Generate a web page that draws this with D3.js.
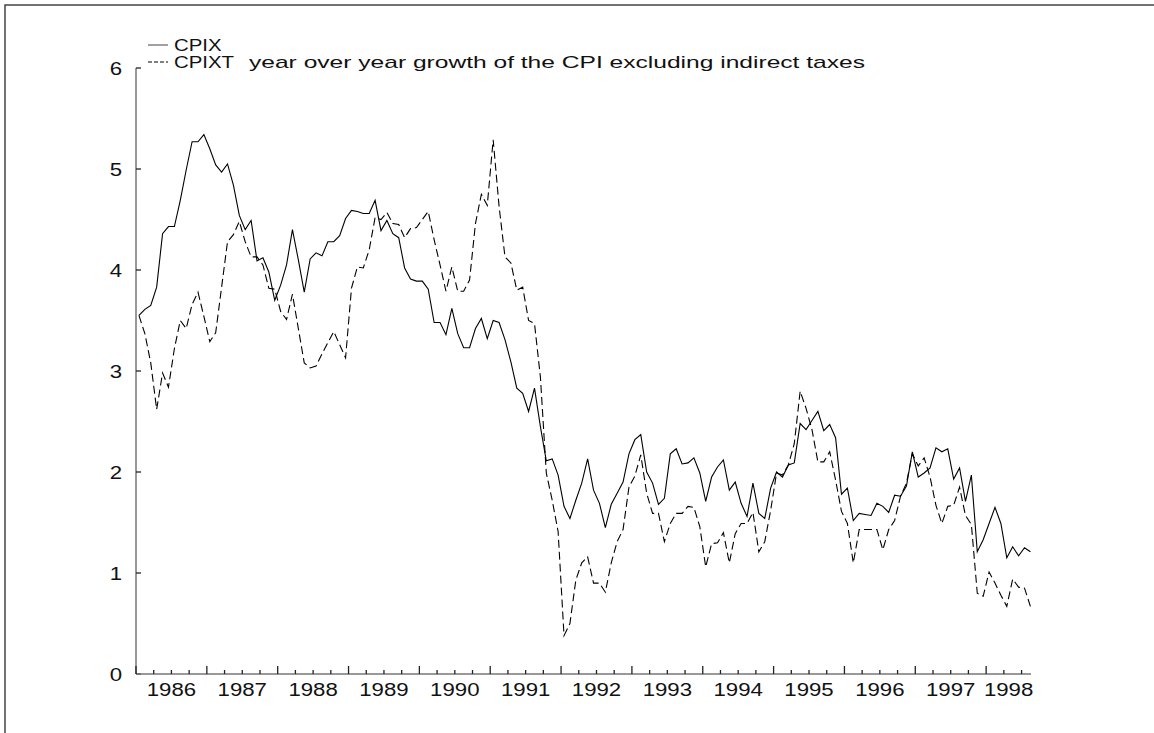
<!DOCTYPE html>
<html>
<head>
<meta charset="utf-8">
<script src="https://cdn.jsdelivr.net/npm/d3@7"></script>
<style>
  body { margin: 0; background: #fff; }
  svg text { font-family: "Liberation Sans", Arial, Helvetica, sans-serif; fill: #111; }
</style>
</head>
<body>
<svg id="chart" width="1154" height="733"></svg>
<script>
// monthly values, Jan 1986 .. Aug 1998
let cpix = [
  3.55, 3.61, 3.65, 3.83, 4.36, 4.43, 4.43, 4.69, 4.99, 5.27, 5.27, 5.34,
  5.20, 5.04, 4.97, 5.05, 4.84, 4.54, 4.40, 4.49, 4.09, 4.12, 3.98, 3.70,
  3.85, 4.05, 4.40, 4.10, 3.78, 4.11, 4.17, 4.14, 4.28, 4.28, 4.34, 4.51,
  4.59, 4.58, 4.56, 4.56, 4.69, 4.39, 4.49, 4.36, 4.32, 4.02, 3.91, 3.89,
  3.89, 3.81, 3.48, 3.48, 3.36, 3.62, 3.37, 3.23, 3.23, 3.42, 3.52, 3.32,
  3.50, 3.48, 3.31, 3.09, 2.83, 2.78, 2.60, 2.83, 2.45, 2.11, 2.13, 1.97,
  1.66, 1.54, 1.72, 1.89, 2.13, 1.82, 1.69, 1.45, 1.68, 1.79, 1.90, 2.18,
  2.32, 2.37, 2.00, 1.89, 1.68, 1.74, 2.18, 2.23, 2.08, 2.09, 2.14, 1.99,
  1.71, 1.95, 2.05, 2.12, 1.82, 1.90, 1.69, 1.56, 1.89, 1.59, 1.54, 1.84,
  2.00, 1.95, 2.07, 2.09, 2.48, 2.42, 2.51, 2.60, 2.41, 2.47, 2.34, 1.78,
  1.84, 1.52, 1.59, 1.58, 1.57, 1.69, 1.66, 1.60, 1.77, 1.76, 1.86, 2.20,
  1.95, 1.99, 2.04, 2.24, 2.20, 2.23, 1.93, 2.04, 1.71, 1.97, 1.21, 1.33,
  1.49, 1.65, 1.49, 1.15, 1.26, 1.17, 1.25, 1.21
];
let cpixt = [
  3.55, 3.37, 3.08, 2.62, 2.98, 2.84, 3.22, 3.50, 3.42, 3.66, 3.78, 3.54,
  3.29, 3.38, 3.83, 4.28, 4.35, 4.48, 4.28, 4.13, 4.13, 4.05, 3.82, 3.81,
  3.59, 3.51, 3.76, 3.42, 3.08, 3.03, 3.05, 3.17, 3.28, 3.39, 3.26, 3.13,
  3.82, 4.03, 4.02, 4.20, 4.52, 4.50, 4.57, 4.46, 4.45, 4.32, 4.41, 4.42,
  4.50, 4.58, 4.30, 4.05, 3.79, 4.03, 3.79, 3.79, 3.90, 4.46, 4.75, 4.64,
  5.29, 4.63, 4.13, 4.07, 3.80, 3.83, 3.50, 3.47, 2.94, 1.99, 1.72, 1.41,
  0.38, 0.50, 0.93, 1.10, 1.16, 0.90, 0.90, 0.81, 1.10, 1.31, 1.43, 1.85,
  1.96, 2.17, 1.79, 1.59, 1.59, 1.31, 1.49, 1.59, 1.59, 1.66, 1.65, 1.46,
  1.06, 1.29, 1.30, 1.40, 1.10, 1.39, 1.49, 1.49, 1.60, 1.21, 1.31, 1.62,
  1.99, 1.97, 2.07, 2.28, 2.80, 2.63, 2.42, 2.10, 2.10, 2.20, 1.92, 1.61,
  1.49, 1.10, 1.43, 1.43, 1.43, 1.43, 1.23, 1.43, 1.52, 1.76, 1.89, 2.18,
  2.06, 2.14, 1.95, 1.67, 1.49, 1.66, 1.67, 1.85, 1.57, 1.48, 0.80, 0.77,
  1.01, 0.90, 0.78, 0.67, 0.94, 0.86, 0.85, 0.67
];
let years = [1986, 1987, 1988, 1989, 1990, 1991, 1992, 1993, 1994, 1995, 1996, 1997, 1998];
let yTicks = [0, 1, 2, 3, 4, 5, 6];
let legendNames = ['CPIX', 'CPIXT'];
let legendNote = 'year over year growth of the CPI excluding indirect taxes';

let svg = d3.select('#chart');
let plotLeft = 136, plotRight = 1031, plotTop = 68, plotBottom = 674;
let stretch = 1.2;

let x = d3.scaleLinear().domain([1986, 1998 + 7.6 / 12]).range([plotLeft, plotRight]);
let y = d3.scaleLinear().domain([0, 6]).range([plotBottom, plotTop]);

// outer frame (top and left edges only)
svg.append('path')
  .attr('d', 'M5,733 V5 H1154')
  .attr('fill', 'none')
  .attr('stroke', '#444')
  .attr('stroke-width', 1.5);

function stretchedText(g, tx, ty, str, anchor, size) {
  return g.append('text')
    .attr('transform', 'translate(' + tx + ',' + ty + ') scale(' + stretch + ',1)')
    .attr('text-anchor', anchor)
    .attr('font-size', size || 18.5)
    .text(str);
}

// y axis
let yAxis = svg.append('g');
yAxis.append('line')
  .attr('x1', plotLeft).attr('x2', plotLeft)
  .attr('y1', y(0)).attr('y2', y(6))
  .attr('stroke', '#777').attr('stroke-width', 1.5);
yTicks.forEach(function(t) {
  yAxis.append('line')
    .attr('x1', plotLeft).attr('x2', plotLeft + 5)
    .attr('y1', y(t)).attr('y2', y(t))
    .attr('stroke', '#222').attr('stroke-width', 1.3);
  stretchedText(yAxis, plotLeft - 14, y(t) + 7, String(t), 'end');
});

// x axis
let xAxis = svg.append('g');
xAxis.append('line')
  .attr('x1', plotLeft).attr('x2', plotRight)
  .attr('y1', plotBottom).attr('y2', plotBottom)
  .attr('stroke', '#777').attr('stroke-width', 1.5);
let quarters = d3.range(1986, 1998.6, 0.25);
quarters.forEach(function(q) {
  let major = Math.abs(q - Math.round(q)) < 1e-6;
  xAxis.append('line')
    .attr('x1', x(q)).attr('x2', x(q))
    .attr('y1', plotBottom).attr('y2', plotBottom - (major ? 8 : 4))
    .attr('stroke', '#222').attr('stroke-width', 1.3);
});
years.forEach(function(yr) {
  // last year is only partly shown: centre its label in what is left
  let cx = yr < 1998 ? x(yr + 0.5) : (x(yr) + plotRight) / 2;
  stretchedText(xAxis, cx, plotBottom + 22, String(yr), 'middle');
});

// series
function dateOf(i) { return 1986 + (i + 0.5) / 12; }
let line = d3.line()
  .x(function(d, i) { return x(dateOf(i)); })
  .y(function(d) { return y(d); });

svg.append('path')
  .datum(cpix)
  .attr('d', line)
  .attr('fill', 'none')
  .attr('stroke', '#000')
  .attr('stroke-width', 1.1);

svg.append('path')
  .datum(cpixt)
  .attr('d', line)
  .attr('fill', 'none')
  .attr('stroke', '#000')
  .attr('stroke-width', 1.1)
  .attr('stroke-dasharray', '8,4');

// legend
let legend = svg.append('g');
legendNames.forEach(function(name, k) {
  let ly = 45 + k * 17;
  legend.append('line')
    .attr('x1', 148).attr('x2', 168)
    .attr('y1', ly).attr('y2', ly)
    .attr('stroke', k === 0 ? '#555' : '#000')
    .attr('stroke-width', 1.1)
    .attr('stroke-dasharray', k === 0 ? null : '4,2');
  stretchedText(legend, 174, ly + 6, name, 'start', 17);
});
legend.append('text')
  .attr('x', 249).attr('y', 45 + 17 + 6)
  .attr('font-size', 17)
  .attr('textLength', 616)
  .attr('lengthAdjust', 'spacingAndGlyphs')
  .text(legendNote);
</script>
</body>
</html>
